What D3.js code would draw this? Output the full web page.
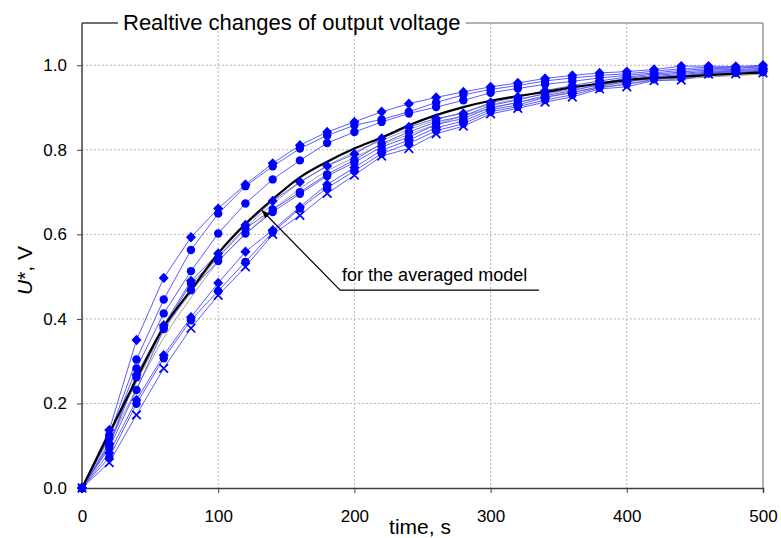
<!DOCTYPE html>
<html>
<head>
<meta charset="utf-8">
<script src="https://cdn.jsdelivr.net/npm/d3@7"></script>
<style>
  body { margin: 0; background: #fff; }
  text { font-family: "Liberation Sans", Arial, sans-serif; fill: #000; }
</style>
</head>
<body>
<script>
// time points, s
const time = [0, 20, 40, 60, 80, 100, 120, 140, 160, 180, 200, 220, 240, 260, 280, 300, 320, 340, 360, 380, 400, 420, 440, 460, 480, 500]

const s1 = [0, 0.137, 0.350, 0.497, 0.593, 0.661, 0.718, 0.768, 0.811, 0.842, 0.866, 0.890, 0.909, 0.924, 0.937, 0.949, 0.958, 0.969, 0.976, 0.982, 0.985, 0.990, 0.998, 0.998, 0.997, 1.000]
const s2 = [0, 0.125, 0.304, 0.446, 0.563, 0.649, 0.714, 0.761, 0.803, 0.834, 0.858, 0.872, 0.890, 0.912, 0.930, 0.943, 0.952, 0.963, 0.970, 0.976, 0.980, 0.986, 0.992, 0.995, 0.995, 0.998]
const s3 = [0, 0.118, 0.283, 0.413, 0.513, 0.602, 0.673, 0.730, 0.775, 0.816, 0.842, 0.866, 0.886, 0.901, 0.917, 0.935, 0.945, 0.955, 0.962, 0.970, 0.976, 0.982, 0.988, 0.992, 0.993, 0.996]
const s4 = [0, 0.105, 0.268, 0.385, 0.490, 0.555, 0.622, 0.679, 0.724, 0.762, 0.790, 0.827, 0.854, 0.874, 0.886, 0.912, 0.925, 0.940, 0.952, 0.963, 0.972, 0.979, 0.984, 0.989, 0.990, 0.993]
const s5 = [0, 0.100, 0.262, 0.380, 0.484, 0.545, 0.614, 0.659, 0.700, 0.742, 0.776, 0.815, 0.842, 0.866, 0.880, 0.905, 0.918, 0.933, 0.946, 0.958, 0.969, 0.976, 0.981, 0.986, 0.988, 0.990]
const s6 = [0, 0.095, 0.232, 0.376, 0.468, 0.537, 0.602, 0.653, 0.696, 0.738, 0.770, 0.807, 0.830, 0.860, 0.874, 0.900, 0.912, 0.928, 0.940, 0.954, 0.965, 0.973, 0.978, 0.984, 0.986, 0.988]
const s7 = [0, 0.083, 0.208, 0.314, 0.404, 0.485, 0.559, 0.610, 0.665, 0.718, 0.758, 0.799, 0.823, 0.852, 0.868, 0.895, 0.906, 0.924, 0.935, 0.950, 0.961, 0.970, 0.975, 0.982, 0.984, 0.986]
const s8 = [0, 0.072, 0.199, 0.307, 0.397, 0.466, 0.535, 0.605, 0.661, 0.710, 0.750, 0.791, 0.815, 0.845, 0.862, 0.890, 0.902, 0.918, 0.930, 0.947, 0.955, 0.967, 0.970, 0.981, 0.982, 0.984]
const s9 = [0, 0.060, 0.173, 0.283, 0.378, 0.456, 0.523, 0.600, 0.645, 0.697, 0.740, 0.785, 0.803, 0.838, 0.856, 0.885, 0.898, 0.913, 0.925, 0.944, 0.949, 0.964, 0.965, 0.979, 0.980, 0.982]

const blueSeries = [s1, s2, s3, s4, s5, s6, s7, s8, s9]
const blueMarkers = ['diamond', 'circle', 'circle', 'diamond', 'circle', 'circle', 'diamond', 'circle', 'x']

// model curves (thin gray) and the averaged model (black)
const grayA = [0, 0.125, 0.250, 0.372, 0.462, 0.548, 0.615, 0.672, 0.722, 0.762, 0.795, 0.822, 0.848, 0.870, 0.890, 0.907, 0.920, 0.932, 0.943, 0.953, 0.961, 0.967, 0.971, 0.975, 0.978, 0.981]
const grayB = [0, 0.110, 0.235, 0.355, 0.450, 0.535, 0.600, 0.658, 0.708, 0.750, 0.782, 0.812, 0.836, 0.860, 0.880, 0.898, 0.912, 0.925, 0.937, 0.947, 0.956, 0.963, 0.968, 0.972, 0.976, 0.979]
const averaged = [0, 0.130, 0.258, 0.381, 0.468, 0.555, 0.625, 0.683, 0.735, 0.772, 0.803, 0.829, 0.858, 0.882, 0.901, 0.916, 0.927, 0.937, 0.948, 0.957, 0.965, 0.970, 0.973, 0.977, 0.980, 0.983]

const xTicks = [0, 100, 200, 300, 400, 500]
const yTicks = [0.0, 0.2, 0.4, 0.6, 0.8, 1.0]

const titleText = 'Realtive changes of output voltage'
const noteText = 'for the averaged model'
// annotation anchor points in data units: arrow tip, elbow, end of underline
const noteTip = [132, 0.657]
const noteElbow = [189.5, 0.468]
const noteEnd = [335.5, 0.468]

const width = 781
const height = 538
const margin = { top: 23, right: 18, bottom: 50, left: 82 }

const x = d3.scaleLinear().domain([0, 500]).range([margin.left, width - margin.right])
const y = d3.scaleLinear().domain([0, 1.1]).range([height - margin.bottom, margin.top])

const svg = d3.select('body').append('svg')
  .attr('width', width)
  .attr('height', height)

const x0 = x.range()[0], x1 = x.range()[1]
const yBottom = y.range()[0], yTop = y.range()[1]

// grid
svg.append('g')
  .selectAll('line')
  .data(yTicks.filter(d => d > 0))
  .enter().append('line')
    .attr('x1', x0).attr('x2', x1)
    .attr('y1', d => y(d)).attr('y2', d => y(d))
    .attr('stroke', '#b4b4b4')
    .attr('stroke-dasharray', '2,2')

svg.append('g')
  .selectAll('line')
  .data(xTicks.filter(d => d > 0 && d < 500))
  .enter().append('line')
    .attr('x1', d => x(d)).attr('x2', d => x(d))
    .attr('y1', yTop).attr('y2', yBottom)
    .attr('stroke', '#b4b4b4')
    .attr('stroke-dasharray', '2,2')

// right frame line
svg.append('line')
  .attr('x1', x1).attr('x2', x1)
  .attr('y1', yTop).attr('y2', yBottom)
  .attr('stroke', '#9a9a9a')
  .attr('stroke-width', 1.5)

// axes
const xAxis = svg.append('g')
  .attr('transform', `translate(0,${yBottom})`)
  .call(d3.axisBottom(x).tickValues(xTicks).tickSize(5).tickPadding(17).tickFormat(d3.format('d')))

const yAxis = svg.append('g')
  .attr('transform', `translate(${x0},0)`)
  .call(d3.axisLeft(y).tickValues(yTicks).tickSize(5).tickPadding(10).tickFormat(d3.format('.1f')))

;[xAxis, yAxis].forEach(g => {
  g.select('.domain').attr('stroke', '#404040').attr('stroke-width', 1.5)
  g.selectAll('.tick line').attr('stroke', '#404040')
  g.selectAll('.tick text')
    .attr('font-size', 17)
    .attr('font-family', '"Liberation Sans", Arial, sans-serif')
    .attr('fill', '#000')
})
yAxis.select('.domain').attr('d', `M0,${yTop}V${yBottom}`)

// title, breaking the top frame line
const title = svg.append('text')
  .attr('x', 123)
  .attr('y', 30)
  .attr('font-size', 22)
  .text(titleText)
const tw = title.node().getComputedTextLength()

svg.append('line')
  .attr('x1', x0).attr('x2', 118)
  .attr('y1', yTop).attr('y2', yTop)
  .attr('stroke', '#404040').attr('stroke-width', 1.5)
svg.append('line')
  .attr('x1', 123 + tw + 5).attr('x2', x1)
  .attr('y1', yTop).attr('y2', yTop)
  .attr('stroke', '#9a9a9a').attr('stroke-width', 1.5)

// axis labels
svg.append('text')
  .attr('x', 420)
  .attr('y', 534)
  .attr('text-anchor', 'middle')
  .attr('font-size', 21)
  .text('time, s')

const yLab = svg.append('text')
  .attr('transform', `translate(32,${(yTop + yBottom) / 2 + 15}) rotate(-90)`)
  .attr('text-anchor', 'middle')
  .attr('font-size', 21)
yLab.append('tspan').attr('font-style', 'italic').text('U')
yLab.append('tspan').text('*, V')

const line = d3.line()
  .x((d, i) => x(time[i]))
  .y(d => y(d))

// gray model curves
svg.append('g')
  .attr('fill', 'none')
  .attr('stroke', '#a0a0a0')
  .attr('stroke-width', 1)
  .selectAll('path')
  .data([grayA, grayB])
  .enter().append('path')
    .attr('d', line.curve(d3.curveMonotoneX))

// blue measured curves
svg.append('g')
  .attr('fill', 'none')
  .attr('stroke', '#4a4aff')
  .attr('stroke-width', 0.9)
  .selectAll('path')
  .data(blueSeries)
  .enter().append('path')
    .attr('d', line.curve(d3.curveLinear))

// averaged model
svg.append('path')
  .datum(averaged)
  .attr('fill', 'none')
  .attr('stroke', '#000')
  .attr('stroke-width', 2.2)
  .attr('d', line.curve(d3.curveMonotoneX))

// markers
const markerGroup = svg.append('g')
blueSeries.forEach((series, k) => {
  const kind = blueMarkers[k]
  const pts = markerGroup.append('g')
    .selectAll('g')
    .data(series)
    .enter().append('g')
      .attr('transform', (d, i) => `translate(${x(time[i])},${y(d)})`)
  if (kind === 'circle') {
    pts.append('circle').attr('r', 4.2).attr('fill', '#0000ff')
  } else if (kind === 'diamond') {
    pts.append('path').attr('d', 'M0,-5.2L5,0L0,5.2L-5,0Z').attr('fill', '#0000ff')
  } else {
    pts.append('path')
      .attr('d', 'M-4.3,-4.3L4.3,4.3M-4.3,4.3L4.3,-4.3')
      .attr('stroke', '#0000ff')
      .attr('stroke-width', 1.7)
  }
})

// annotation
svg.append('defs').append('marker')
  .attr('id', 'arrow')
  .attr('viewBox', '0 0 10 10')
  .attr('refX', 10).attr('refY', 5)
  .attr('markerWidth', 7).attr('markerHeight', 7)
  .attr('orient', 'auto')
  .append('path')
    .attr('d', 'M0,1L10,5L0,9Z')
    .attr('fill', '#000')

svg.append('path')
  .attr('d', `M${x(noteEnd[0])},${y(noteEnd[1])}L${x(noteElbow[0])},${y(noteElbow[1])}L${x(noteTip[0])},${y(noteTip[1])}`)
  .attr('fill', 'none')
  .attr('stroke', '#000')
  .attr('stroke-width', 1.2)
  .attr('marker-end', 'url(#arrow)')

svg.append('text')
  .attr('x', x(noteElbow[0]) + 2)
  .attr('y', y(noteElbow[1]) - 9)
  .attr('font-size', 18)
  .text(noteText)
</script>
</body>
</html>
